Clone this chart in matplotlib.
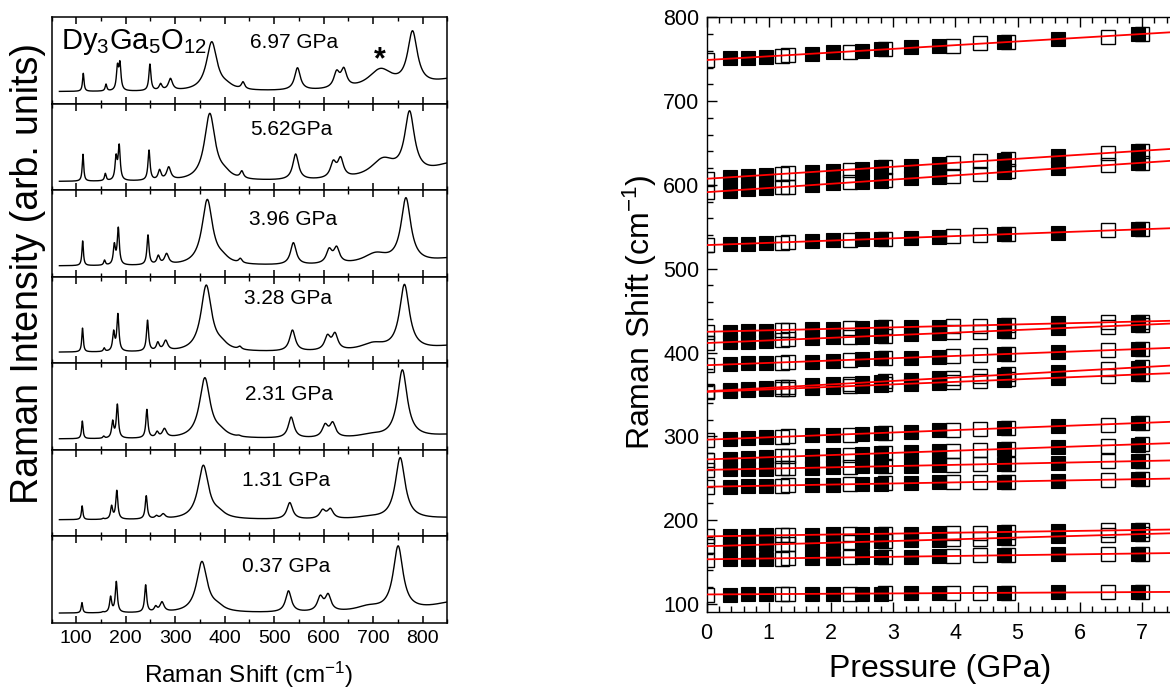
import numpy as np
import matplotlib
matplotlib.use('Agg')
import matplotlib.pyplot as plt
from matplotlib.ticker import MultipleLocator

plt.rcParams['font.family'] = ['Liberation Sans', 'DejaVu Sans']
plt.rcParams['mathtext.fontset'] = 'custom'
plt.rcParams['mathtext.rm'] = 'Liberation Sans'
plt.rcParams['mathtext.it'] = 'Liberation Sans:italic'
plt.rcParams['mathtext.bf'] = 'Liberation Sans:bold'
plt.rcParams['mathtext.default'] = 'regular'

# ---------------- Left panel data: Raman spectra (peak tables) ----------------
spectrum_labels = ['6.97 GPa', '5.62GPa', '3.96 GPa', '3.28 GPa', '2.31 GPa', '1.31 GPa', '0.37 GPa']
# peak half widths (cm-1) for peaks A B C D E F G H S I J K L N M Z
peak_hwhm = [1.8, 2.0, 2.5, 2.5, 2.5, 3.5, 5.0, 13.0, 15.0, 4.0, 7.0, 7.0, 7.0, 30.0, 12.0, 60.0]
peak_pos = [
    [114.2, 160.2, 183.3, 188.3, 248.9, 270.5, 290.4, 373.9, 404.3, 437.1, 547.2, 626.3, 640.8, 715, 779.7, 870],
    [113.6, 158.8, 180.5, 186.8, 247.1, 268.4, 286.9, 369.9, 400.5, 434.7, 543.5, 619.5, 634.3, 720, 773.7, 870],
    [113.0, 157.2, 177.0, 185.0, 245.0, 265.9, 282.6, 364.9, 395.9, 431.7, 538.9, 611.2, 626.3, 705, 766.4, 870],
    [112.7, 156.5, 175.6, 184.2, 244.1, 264.9, 280.8, 362.8, 394.0, 430.5, 537.0, 607.8, 623.0, 700, 763.4, 870],
    [112.3, 155.5, 173.6, 183.1, 242.8, 263.5, 278.3, 359.9, 391.3, 428.8, 534.4, 603.0, 618.4, 695, 759.2, 870],
    [111.9, 154.5, 171.5, 182.0, 241.5, 262.0, 275.7, 356.9, 388.5, 427.0, 531.6, 598.0, 613.6, 690, 754.8, 870],
    [111.5, 153.6, 169.5, 181.0, 240.3, 260.6, 273.3, 354.1, 385.8, 425.3, 529.0, 593.2, 609.1, 690, 750.6, 870],
]
# observed intensity above baseline at each peak (fraction of panel height)
peak_height = [
    [.213, .089, .328, .358, .320, .097, .155, .578, .13, .116, .277, .251, .282, .27, .705, .16],
    [.317, .097, .320, .436, .366, .143, .173, .790, .18, .127, .320, .250, .290, .28, .820, .23],
    [.290, .070, .270, .450, .360, .127, .147, .770, .17, .090, .270, .210, .230, .16, .790, .10],
    [.280, .053, .258, .450, .373, .123, .142, .778, .17, .073, .258, .208, .231, .12, .786, .085],
    [.208, .035, .220, .405, .343, .092, .124, .709, .155, .046, .254, .180, .200, .07, .800, .058],
    [.162, .020, .170, .343, .280, .054, .073, .632, .14, .020, .200, .124, .135, .05, .720, .03],
    [.124, .020, .200, .370, .330, .090, .135, .600, .135, .020, .260, .210, .230, .10, .780, .14],
]
baseline = [0.14, 0.10, 0.125, 0.127, 0.125, 0.19, 0.11]
label_pos_x = [541, 535, 539, 528, 531, 525, 525]
label_pos_y = [0.714, 0.70, 0.665, 0.75, 0.64, 0.65, 0.65]

# ---------------- Right panel data: mode frequencies vs pressure ----------------
pressure_filled = [0.37, 0.67, 0.96, 1.69, 2.04, 2.50, 2.81, 3.29, 3.73, 4.78, 5.65, 6.94]
pressure_open = [0.00, 1.22, 1.31, 2.31, 2.87, 3.96, 4.40, 4.85, 6.46, 7.00]
shift_filled = [
    [751, 752, 753, 756, 758, 760, 762, 764, 766, 770, 774, 780],
    [609, 611, 612, 615, 617, 619, 621, 623, 625, 630, 634, 640],
    [593, 595, 596, 600, 602, 604, 605, 608, 610, 615, 620, 626],
    [529, 530, 531, 533, 534, 535, 536, 537, 538, 541, 543, 547],
    [425, 426, 426, 428, 428, 429, 430, 431, 431, 433, 435, 437],
    [412, 413, 414, 417, 418, 419, 420, 422, 423, 426, 429, 433],
    [386, 387, 387, 389, 390, 392, 393, 394, 395, 398, 401, 404],
    [355, 356, 358, 361, 362, 364, 365, 367, 369, 373, 377, 382],
    [354, 355, 356, 358, 359, 360, 361, 363, 364, 367, 370, 374],
    [297, 298, 299, 301, 302, 303, 304, 305, 307, 310, 312, 316],
    [273, 274, 275, 277, 278, 279, 280, 281, 282, 285, 287, 290],
    [261, 261, 261, 262, 263, 264, 264, 265, 266, 267, 268, 270],
    [240, 241, 241, 242, 242, 243, 243, 244, 245, 246, 247, 249],
    [181, 181, 182, 182, 183, 183, 184, 184, 185, 186, 187, 188],
    [169, 170, 171, 172, 173, 174, 175, 176, 176, 179, 181, 183],
    [154, 154, 154, 155, 155, 156, 156, 156, 157, 158, 159, 160],
    [111, 112, 112, 112, 112, 112, 112, 113, 113, 113, 114, 114],
]
shift_open = [
    [749, 754, 755, 759, 762, 766, 769, 771, 777, 780],
    [607, 613, 614, 618, 621, 626, 629, 631, 638, 641],
    [591, 597, 598, 603, 606, 611, 613, 616, 624, 626],
    [528, 531, 532, 534, 536, 539, 540, 541, 546, 547],
    [425, 427, 427, 429, 430, 432, 432, 433, 436, 437],
    [411, 415, 416, 419, 420, 424, 425, 426, 431, 433],
    [385, 388, 389, 391, 393, 396, 397, 398, 403, 404],
    [354, 359, 359, 363, 366, 370, 372, 374, 380, 383],
    [353, 357, 357, 360, 362, 365, 366, 368, 372, 374],
    [296, 299, 300, 302, 304, 307, 309, 310, 314, 316],
    [272, 276, 276, 278, 280, 283, 284, 285, 289, 291],
    [260, 262, 262, 263, 264, 266, 267, 267, 270, 271],
    [240, 241, 242, 243, 244, 245, 246, 246, 248, 249],
    [181, 182, 182, 183, 184, 185, 185, 186, 188, 188],
    [169, 171, 172, 174, 175, 177, 178, 179, 182, 183],
    [153, 154, 155, 156, 156, 157, 158, 158, 160, 160],
    [111, 112, 112, 112, 113, 113, 113, 113, 114, 114],
]

W, H = 1170, 688
fig = plt.figure(figsize=(W / 100, H / 100), dpi=100)

# ---------------- Left: stacked spectra ----------------
top0, ph = 17.3, 86.5
x0, x1 = 51.5, 447.3
wn = np.linspace(66, 850, 4000)
hw = np.array(peak_hwhm)
for k in range(7):
    ax = fig.add_axes([x0 / W, 1 - (top0 + (k + 1) * ph) / H, (x1 - x0) / W, ph / H])
    pos = np.array(peak_pos[k], dtype=float)
    hts = np.array(peak_height[k], dtype=float)
    Lm = 1.0 / (1.0 + ((pos[:, None] - pos[None, :]) / hw[None, :]) ** 2)
    amp = hts.copy()
    for _ in range(300):
        for j in range(len(amp)):
            s = Lm[j] @ amp - amp[j]
            amp[j] = max(0.0, hts[j] - s)
    curve = baseline[k] + (amp[None, :] / (1.0 + ((wn[:, None] - pos[None, :]) / hw[None, :]) ** 2)).sum(1)
    ax.plot(wn, curve, color='black', lw=1.0)
    ax.set_xlim(50, 850)
    ax.set_ylim(0, 1)
    ax.set_yticks([])
    ax.xaxis.set_major_locator(MultipleLocator(100))
    ax.xaxis.set_minor_locator(MultipleLocator(50))
    ax.tick_params(axis='x', which='both', direction='in', top=True, bottom=True)
    ax.tick_params(axis='x', which='major', length=5, width=1.1)
    ax.tick_params(axis='x', which='minor', length=3, width=1.0)
    for sp in ax.spines.values():
        sp.set_linewidth(1.1)
    if k < 6:
        ax.tick_params(axis='x', labelbottom=False)
    else:
        ax.tick_params(axis='x', labelsize=14, pad=5)
    ax.text(label_pos_x[k], label_pos_y[k], spectrum_labels[k], ha='center', va='center', fontsize=15)
    if k == 0:
        ax.text(70, 0.714, r'Dy$_3$Ga$_5$O$_{12}$', ha='left', va='center', fontsize=21)
        ax.text(713, 0.50, '*', ha='center', va='center', fontsize=22, fontweight='bold')

fig.text(28 / W, 1 - 274 / H, 'Raman Intensity (arb. units)', rotation=90,
         ha='center', va='center', fontsize=27)
fig.text(249 / W, 1 - 683 / H, r'Raman Shift (cm$^{-1}$)', ha='center', va='baseline', fontsize=17.5)

# ---------------- Right: mode frequencies vs pressure ----------------
px_per_gpa = 62.2
xr0 = 706.5
axr = fig.add_axes([xr0 / W, 1 - 612.3 / H, 7.5 * px_per_gpa / W, (612.3 - 17.3) / H])
axr.set_xlim(0, 7.5)
axr.set_ylim(90, 800)
xfit = np.array([0.0, 7.5])
for m in range(len(shift_filled)):
    axr.plot(pressure_filled, shift_filled[m], 's', ms=9.8, mfc='black', mec='black', mew=0.8, zorder=2)
    axr.plot(pressure_open, shift_open[m], 's', ms=9.8, mfc='none', mec='black', mew=1.0, zorder=2)
    pp = np.array(pressure_filled + pressure_open)
    vv = np.array(shift_filled[m] + shift_open[m], dtype=float)
    coef = np.polyfit(pp, vv, 1)
    axr.plot(xfit, np.polyval(coef, xfit), color='#ff0000', lw=1.3, zorder=3)

axr.xaxis.set_major_locator(MultipleLocator(1))
axr.xaxis.set_minor_locator(MultipleLocator(0.2))
axr.yaxis.set_major_locator(MultipleLocator(100))
axr.yaxis.set_minor_locator(MultipleLocator(20))
axr.tick_params(which='both', direction='in', top=True, right=False)
axr.tick_params(which='major', length=7, width=1.0)
axr.tick_params(which='minor', length=4, width=1.0)
axr.tick_params(axis='y', labelsize=15.5, pad=5)
axr.tick_params(axis='x', labelsize=15.5, pad=8)
for sp in axr.spines.values():
    sp.set_linewidth(1.0)

fig.text(640 / W, 1 - 312 / H, r'Raman Shift (cm$^{-1}$)', rotation=90,
         ha='center', va='center', fontsize=23)
fig.text(940 / W, 1 - 677 / H, 'Pressure (GPa)', ha='center', va='baseline', fontsize=23)

fig.savefig('out.png', dpi=100)
